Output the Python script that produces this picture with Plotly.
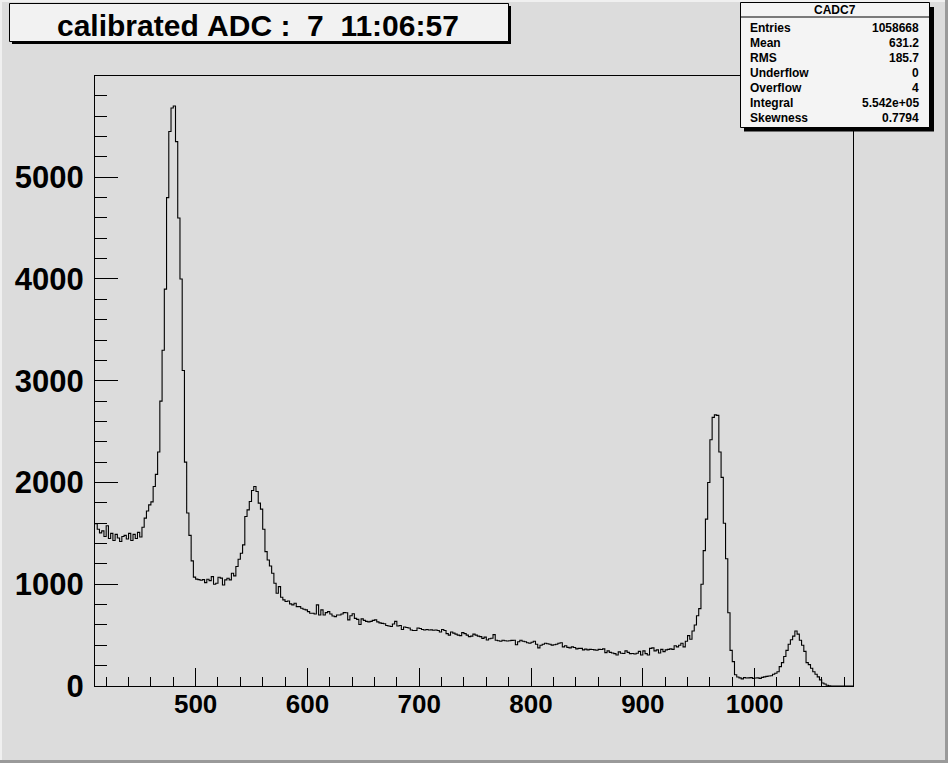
import numpy as np
import plotly.graph_objects as go

# ---------------- data (histogram CADC7, bin width 2, starting at 410) ----------------
bin_start = 410
bin_width = 2

counts_410_454 = [1595, 1540, 1505, 1525, 1470, 1575, 1450, 1500, 1430, 1490, 1455,
                  1420, 1470, 1480, 1445, 1500, 1430, 1490, 1450, 1510, 1465, 1560]
counts_454_500 = [1650, 1720, 1780, 1810, 1960, 2080, 2300, 2800, 3300, 3900, 4800,
                  5450, 5680, 5700, 5350, 4600, 4000, 3100, 2200, 1700, 1480, 1230, 1070]
counts_500_634 = [1050, 1045, 1040, 1045, 1016, 1049, 1036, 1075, 1000, 1010, 1069,
                  1060, 993, 1043, 1059, 1043, 1108, 1082, 1174, 1246, 1305, 1387,
                  1666, 1731, 1813, 1921, 1960, 1911, 1797, 1738, 1541, 1321, 1239,
                  1180, 1108, 1010, 911, 977, 872, 846, 830, 836, 807, 797, 813, 780,
                  780, 764, 754, 748, 731, 715, 715, 708, 797, 698, 748, 698, 721, 731,
                  708, 688, 682, 698, 698, 708, 721]
counts_634_870 = [720, 650, 690, 710, 665, 655, 605, 660, 645, 635, 630, 635, 645, 650,
                  630, 620, 615, 612, 595, 590, 585, 610, 635, 590, 595, 555, 580, 575,
                  570, 550, 545, 545, 570, 565, 555, 550, 555, 550, 552, 548, 550, 545,
                  530, 555, 545, 515, 500, 530, 520, 510, 500, 495, 525, 515, 500, 485,
                  490, 510, 500, 490, 485, 468, 480, 452, 465, 470, 505, 450, 445, 440,
                  450, 445, 442, 445, 448, 450, 405, 435, 450, 440, 435, 425, 420, 430,
                  440, 410, 375, 400, 410, 420, 415, 410, 402, 405, 410, 420, 425, 385,
                  395, 380, 375, 385, 378, 365, 370, 370, 355, 362, 355, 360, 358, 355,
                  352, 360, 358, 365, 328, 345]
counts_870_1088 = [330, 325, 318, 305, 335, 322, 320, 345, 330, 318, 320, 315, 322, 340,
                   305, 345, 318, 305, 370, 375, 345, 355, 325, 360, 338, 355, 360, 365,
                   360, 395, 385, 400, 420, 385, 440, 495, 460, 540, 600, 690, 760, 1000,
                   1330, 1640, 2000, 2420, 2640, 2665, 2660, 2300, 2050, 1600, 1250, 720,
                   350, 240, 110, 88, 80, 70, 82, 78, 80, 82, 75, 78, 80, 75, 85, 90, 95,
                   98, 100, 115, 125, 140, 190, 230, 290, 350, 410, 455, 490, 540, 510,
                   450, 400, 340, 230, 210, 175, 140, 115, 90, 60, 30, 20, 8, 3,
                   0, 0, 0, 0, 0, 0, 0, 0, 0, 0]

counts = counts_410_454 + counts_454_500 + counts_500_634 + counts_634_870 + counts_870_1088

title_text = "calibrated ADC :  7  11:06:57"
stats_name = "CADC7"
stats_labels = ["Entries", "Mean", "RMS", "Underflow", "Overflow", "Integral", "Skewness"]
stats_values = ["1058668", "631.2", "185.7", "0", "4", "5.542e+05", "0.7794"]

x_range = [410, 1088]
y_range = [0, 5995]

# ---------------- figure ----------------
edges = bin_start + bin_width * np.arange(len(counts) + 1)
xs = list(edges)
ys = list(counts) + [counts[-1]]

BG = "#dcdcdc"
FONT = "Liberation Sans"

fig = go.Figure()
fig.add_trace(go.Scatter(x=xs, y=ys, mode="lines", line=dict(color="black", width=1.1, shape="hv"),
                         hoverinfo="skip", showlegend=False))

W, H = 948, 763
L, R, T, B = 95, 853, 76, 686
PW, PH = R - L, B - T


def fx(p):
    return (p - L) / PW


def fy(p):
    return (B - p) / PH


shapes = []
# canvas bevel
shapes.append(dict(type="rect", xref="paper", yref="paper", x0=fx(W - 3), x1=fx(W), y0=fy(H), y1=fy(0),
                   line=dict(width=0), fillcolor="#9a9a9a", layer="above"))
shapes.append(dict(type="rect", xref="paper", yref="paper", x0=fx(0), x1=fx(W), y0=fy(H), y1=fy(H - 3),
                   line=dict(width=0), fillcolor="#9a9a9a", layer="above"))
shapes.append(dict(type="rect", xref="paper", yref="paper", x0=fx(0), x1=fx(2), y0=fy(H - 3), y1=fy(0),
                   line=dict(width=0), fillcolor="#f0f0f0", layer="above"))
shapes.append(dict(type="rect", xref="paper", yref="paper", x0=fx(0), x1=fx(W - 3), y0=fy(2), y1=fy(0),
                   line=dict(width=0), fillcolor="#f0f0f0", layer="above"))

# title box with shadow
shapes.append(dict(type="rect", xref="paper", yref="paper", x0=fx(12), x1=fx(511), y0=fy(44), y1=fy(6),
                   line=dict(width=0), fillcolor="black", layer="above"))
shapes.append(dict(type="rect", xref="paper", yref="paper", x0=fx(9.5), x1=fx(508.5), y0=fy(41.5), y1=fy(3.5),
                   line=dict(color="black", width=1), fillcolor="#f2f2f2", layer="above"))

# stats box with shadow
shapes.append(dict(type="rect", xref="paper", yref="paper", x0=fx(744), x1=fx(934), y0=fy(131.5), y1=fy(7),
                   line=dict(width=0), fillcolor="black", layer="above"))
shapes.append(dict(type="rect", xref="paper", yref="paper", x0=fx(740.5), x1=fx(929.5), y0=fy(127.5), y1=fy(2.5),
                   line=dict(color="black", width=1), fillcolor="#f4f4f4", layer="above"))
shapes.append(dict(type="line", xref="paper", yref="paper", x0=fx(740.5), x1=fx(929.5), y0=fy(17), y1=fy(17),
                   line=dict(color="black", width=1), layer="above"))

annotations = []
annotations.append(dict(text="<b>" + title_text.replace(" ", "\u00a0") + "</b>", xref="paper", yref="paper",
                        x=fx(258), y=fy(26), xanchor="center", yanchor="middle", showarrow=False,
                        font=dict(family=FONT, size=30, color="black")))
annotations.append(dict(text="<b>" + stats_name + "</b>", xref="paper", yref="paper",
                        x=fx(835), y=fy(10), xanchor="center", yanchor="middle", showarrow=False,
                        font=dict(family=FONT, size=12, color="black")))
for i, (lab, val) in enumerate(zip(stats_labels, stats_values)):
    yy = 27.5 + i * 15.1
    annotations.append(dict(text="<b>" + lab + "</b>", xref="paper", yref="paper",
                            x=fx(748), y=fy(yy), xanchor="left", yanchor="middle", showarrow=False,
                            font=dict(family=FONT, size=12, color="black")))
    annotations.append(dict(text="<b>" + val + "</b>", xref="paper", yref="paper",
                            x=fx(921), y=fy(yy), xanchor="right", yanchor="middle", showarrow=False,
                            font=dict(family=FONT, size=12, color="black")))

fig.update_layout(
    width=W, height=H,
    margin=dict(l=L, r=W - R, t=T, b=H - B, pad=0),
    paper_bgcolor=BG, plot_bgcolor=BG,
    shapes=shapes, annotations=annotations,
    showlegend=False,
)
fig.update_xaxes(range=x_range, showgrid=False, zeroline=False,
                 showline=True, linecolor="black", linewidth=1, mirror=True,
                 ticks="inside", ticklen=18, tickwidth=1, tickcolor="black",
                 tick0=0, dtick=100,
                 minor=dict(ticks="inside", ticklen=9, tickwidth=1, tickcolor="black", dtick=20, showgrid=False),
                 tickfont=dict(family=FONT, size=26, color="black", weight="bold"),
                 ticklabelstandoff=-5)
fig.update_yaxes(range=y_range, showgrid=False, zeroline=False,
                 showline=True, linecolor="black", linewidth=1, mirror=True,
                 ticks="inside", ticklen=23, tickwidth=1, tickcolor="black",
                 tick0=0, dtick=1000,
                 minor=dict(ticks="inside", ticklen=12, tickwidth=1, tickcolor="black", dtick=200, showgrid=False),
                 tickfont=dict(family=FONT, size=31, color="black", weight="bold"),
                 ticklabelstandoff=4)

fig.write_html("out.html", config={"displayModeBar": False},
               post_script="document.body.style.margin='0';document.body.style.overflow='hidden';"
                           "document.documentElement.style.background='" + BG + "';")
